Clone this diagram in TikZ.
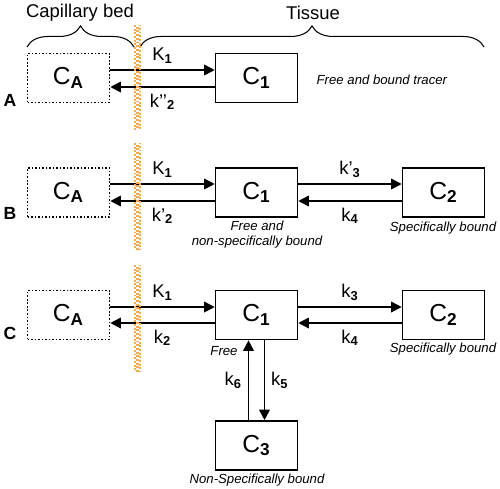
\documentclass[tikz,border=0pt]{standalone}
\usepackage{fontspec}
\setmainfont{Liberation Sans}
\usetikzlibrary{arrows.meta,decorations.pathreplacing}

\definecolor{wallorange}{RGB}{245,170,80}
\newcommand{\comp}[1]{C\textsubscript{\textbf{#1}}}
\newcommand{\rate}[2]{#1\textsubscript{\textbf{#2}}}

\begin{document}
\begin{tikzpicture}[
    >={Triangle[length=6pt,width=6pt]},
    x=0.02cm,
    y=-0.02cm,
    line width=0.95pt,
    every node/.style={font=\fontsize{10.5}{12}\selectfont},
    comp/.style={draw, line width=0.9pt, minimum width=1.64cm, minimum height=0.98cm,
        inner sep=0pt, font=\fontsize{14}{16}\selectfont},
    plasma/.style={comp, dash pattern=on 0.9pt off 1.1pt},
    note/.style={font=\fontsize{7.5}{9}\selectfont\itshape, align=center},
    row/.style={font=\fontsize{10}{12}\selectfont\bfseries},
    wall/.style={draw=wallorange, line width=1.2pt, dash pattern=on 1.1pt off 1pt},
    bracket/.style={decorate, line width=0.6pt, decoration={brace, amplitude=12pt}}
]
\useasboundingbox (0,0) rectangle (500,488);

% Kopfzeile
\node (cap) at (80,13) {Capillary bed};
\node (tis) at (313,13) {Tissue};
\draw[bracket] (27,47) -- (134,47);
\draw[bracket] (140,47) -- (484,47);

% Modell A
\node[row] (la) at (10,100) {A};
\node[plasma] (CAa) at (68.5,78) {\comp{A}};
\node[comp] (C1a) at (256.5,78) {\comp{1}};
\node[note, anchor=west] (ta) at (310,80) {Free and bound tracer};

\draw[->] ([yshift=0.16cm]CAa.east) -- node[above] {\rate{K}{1}} ([yshift=0.16cm]C1a.west);
\draw[->] ([yshift=-0.18cm]C1a.west) -- node[below] {\rate{k'{}'}{2}} ([yshift=-0.18cm]CAa.east);

% Modell B
\node[row] (lb) at (10,213) {B};
\node[plasma] (CAb) at (68.5,192.5) {\comp{A}};
\node[comp] (C1b) at (256.5,192.5) {\comp{1}};
\node[comp] (C2b) at (443.5,192.5) {\comp{2}};
\node[note] (tb1) at (257,234.5) {Free and\\non-specifically bound};
\node[note] (tb2) at (443,228) {Specifically bound};

\draw[->] ([yshift=0.17cm]CAb.east) -- node[above] {\rate{K}{1}} ([yshift=0.17cm]C1b.west);
\draw[->] ([yshift=-0.17cm]C1b.west) -- node[below] {\rate{k'}{2}} ([yshift=-0.17cm]CAb.east);
\draw[->] ([yshift=0.17cm]C1b.east) -- node[above] {\rate{k'}{3}} ([yshift=0.17cm]C2b.west);
\draw[->] ([yshift=-0.17cm]C2b.west) -- node[below] {\rate{k}{4}} ([yshift=-0.17cm]C1b.east);

% Modell C
\node[row] (lc) at (10,333) {C};
\node[plasma] (CAc) at (68.5,315) {\comp{A}};
\node[comp] (C1c) at (256.5,315) {\comp{1}};
\node[comp] (C2c) at (443.5,315) {\comp{2}};
\node[comp] (C3c) at (256.5,445.5) {\comp{3}};
\node[note] (tc1) at (224,351) {Free};
\node[note] (tc2) at (443,349) {Specifically bound};
\node[note] (tc3) at (257,480) {Non-Specifically bound};

\draw[->] ([yshift=0.16cm]CAc.east) -- node[above] {\rate{K}{1}} ([yshift=0.16cm]C1c.west);
\draw[->] ([yshift=-0.16cm]C1c.west) -- node[below] {\rate{k}{2}} ([yshift=-0.16cm]CAc.east);
\draw[->] ([yshift=0.16cm]C1c.east) -- node[above] {\rate{k}{3}} ([yshift=0.16cm]C2c.west);
\draw[->] ([yshift=-0.16cm]C2c.west) -- node[below] {\rate{k}{4}} ([yshift=-0.16cm]C1c.east);
\draw[->] ([xshift=0.16cm]C1c.south) -- node[right] {\rate{k}{5}} ([xshift=0.16cm]C3c.north);
\draw[->] ([xshift=-0.16cm]C3c.north) -- node[left] {\rate{k}{6}} ([xshift=-0.16cm]C1c.south);

% Kapillarwand
\foreach \ya/\yb in {25/130, 143/250, 265/372} {
    \draw[wall] (135,\ya) -- (135,\yb);
    \draw[wall, dash phase=1.1pt] (137.5,\ya) -- (137.5,\yb);
    \draw[wall, dash phase=0.5pt] (140,\ya) -- (140,\yb);
}

\end{tikzpicture}
\end{document}
